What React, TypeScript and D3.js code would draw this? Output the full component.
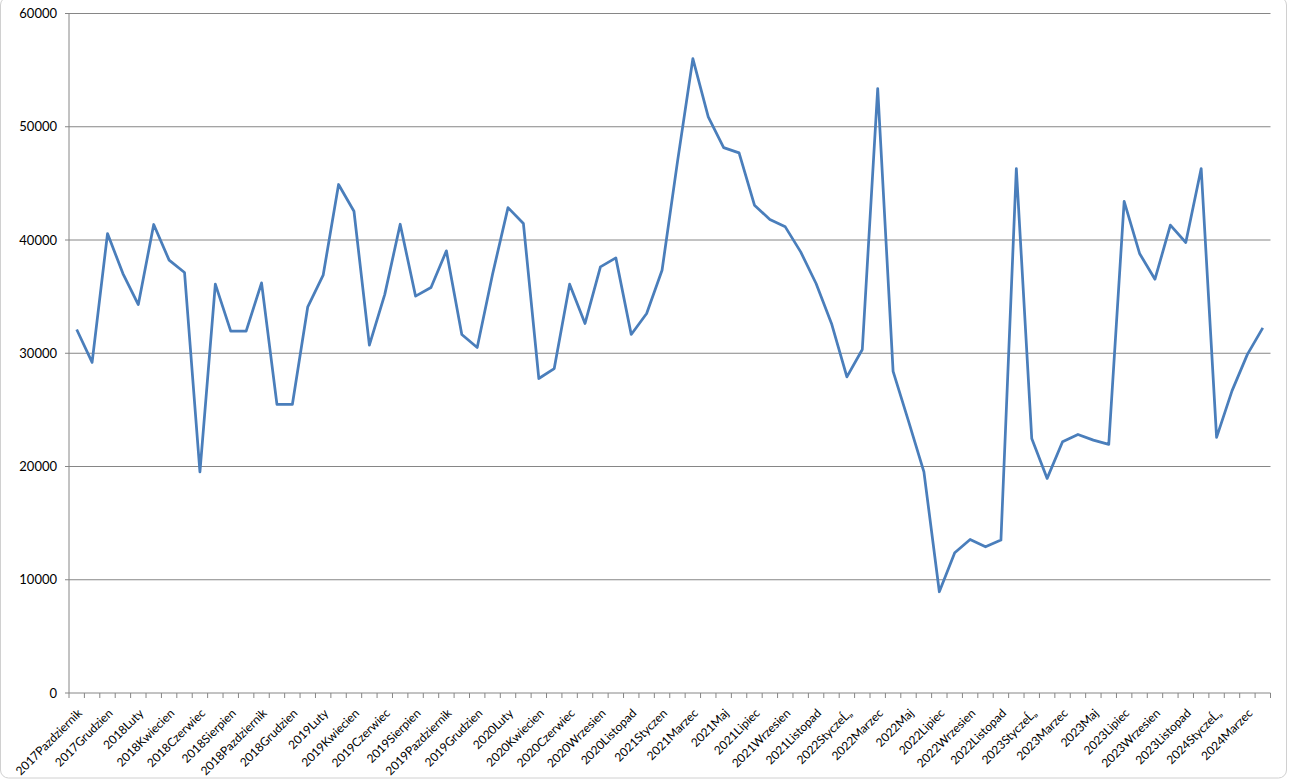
import React from "react";
import * as d3 from "d3";

const categories: string[] = [
  "2017Pazdziernik", "2017Listopad", "2017Grudzien",
  "2018Styczen", "2018Luty", "2018Marzec", "2018Kwiecien", "2018Maj", "2018Czerwiec",
  "2018Lipiec", "2018Sierpien", "2018Wrzesien", "2018Pazdziernik", "2018Listopad", "2018Grudzien",
  "2019Styczen", "2019Luty", "2019Marzec", "2019Kwiecien", "2019Maj", "2019Czerwiec",
  "2019Lipiec", "2019Sierpien", "2019Wrzesien", "2019Pazdziernik", "2019Listopad", "2019Grudzien",
  "2020Styczen", "2020Luty", "2020Marzec", "2020Kwiecien", "2020Maj", "2020Czerwiec",
  "2020Lipiec", "2020Wrzesien", "2020Pazdziernik", "2020Listopad", "2020Grudzien",
  "2021Styczen", "2021Luty", "2021Marzec", "2021Kwiecien", "2021Maj", "2021Czerwiec",
  "2021Lipiec", "2021Sierpien", "2021Wrzesien", "2021Pazdziernik", "2021Listopad", "2021Grudzien",
  "2022StyczeĹ„", "2022Luty", "2022Marzec", "2022Kwiecien", "2022Maj", "2022Czerwiec",
  "2022Lipiec", "2022Sierpien", "2022Wrzesien", "2022Pazdziernik", "2022Listopad", "2022Grudzien",
  "2023StyczeĹ„", "2023Luty", "2023Marzec", "2023Kwiecien", "2023Maj", "2023Czerwiec",
  "2023Lipiec", "2023Sierpien", "2023Wrzesien", "2023Pazdziernik", "2023Listopad", "2023Grudzien",
  "2024StyczeĹ„", "2024Luty", "2024Marzec", "2024Kwiecien",
];

const values: number[] = [
  32100, 29190, 40570,
  37040, 34300, 41370, 38220, 37130, 19530,
  36100, 31950, 31950, 36210, 25480, 25480,
  34100, 36890, 44900, 42540, 30710, 35200,
  41390, 35040, 35810, 39040, 31660, 30510,
  37000, 42860, 41450, 27770, 28650, 36100,
  32630, 37630, 38420, 31660, 33510,
  37330, 46900, 56010, 50870, 48160, 47690,
  43070, 41810, 41160, 38950, 36160, 32630,
  27920, 30330, 53370, 28400, 24000, 19530,
  8940, 12380, 13560, 12910, 13500, 46310,
  22480, 18950, 22180, 22830, 22330, 21950,
  43420, 38810, 36540, 41310, 39780, 46310,
  22570, 26680, 29900, 32240,
];

const yTicks: number[] = [0, 10000, 20000, 30000, 40000, 50000, 60000];

const W = 1289;
const H = 783;
const M = { left: 69, right: 1270.5, top: 13.5, bottom: 693 };
const FONT = "Lato, 'Open Sans', sans-serif";

export default function App() {
  const x = d3
    .scaleBand<string>()
    .domain(categories)
    .range([M.left, M.right])
    .paddingInner(0)
    .paddingOuter(0);
  const y = d3.scaleLinear().domain([0, 60000]).range([M.bottom, M.top]);
  const bw = x.bandwidth();
  const cx = (c: string) => (x(c) as number) + bw / 2;

  const line = d3
    .line<number>()
    .x((_, i) => cx(categories[i]))
    .y((d) => y(d));

  const tickXs = d3.range(categories.length + 1).map((k) => M.left + k * bw);

  return (
    <svg
      width={W}
      height={H}
      style={{ position: "absolute", left: 0, top: 0, background: "#fff" }}
      fontFamily={FONT}
    >
      <rect x={0.5} y={-3} width={1286} height={781} rx={8} fill="#fff" stroke="#d0d0d0" />
      {yTicks.map((t) => (
        <g key={t}>
          {t > 0 && (
            <line x1={M.left} x2={M.right} y1={y(t)} y2={y(t)} stroke="#868686" strokeWidth={1} />
          )}
          <line x1={M.left - 4} x2={M.left} y1={y(t)} y2={y(t)} stroke="#868686" />
          <text x={57} y={y(t)} dy="0.35em" textAnchor="end" fontSize={13} fill="#000">
            {t}
          </text>
        </g>
      ))}
      <line x1={M.left} x2={M.left} y1={M.top} y2={M.bottom} stroke="#868686" />
      <line x1={M.left} x2={M.right} y1={M.bottom} y2={M.bottom} stroke="#868686" />
      {tickXs.map((tx, k) => (
        <line key={k} x1={tx} x2={tx} y1={M.bottom} y2={M.bottom + 5} stroke="#868686" />
      ))}
      {categories.map((c, i) =>
        i % 2 === 0 ? (
          <text
            key={c}
            transform={`translate(${cx(c) + 6},${M.bottom + 21}) rotate(-45)`}
            textAnchor="end"
            fontSize={12}
            fill="#000"
          >
            {c}
          </text>
        ) : null
      )}
      <path
        d={line(values) || ""}
        fill="none"
        stroke="#4A7EBB"
        strokeWidth={2.75}
        strokeLinejoin="round"
      />
    </svg>
  );
}
